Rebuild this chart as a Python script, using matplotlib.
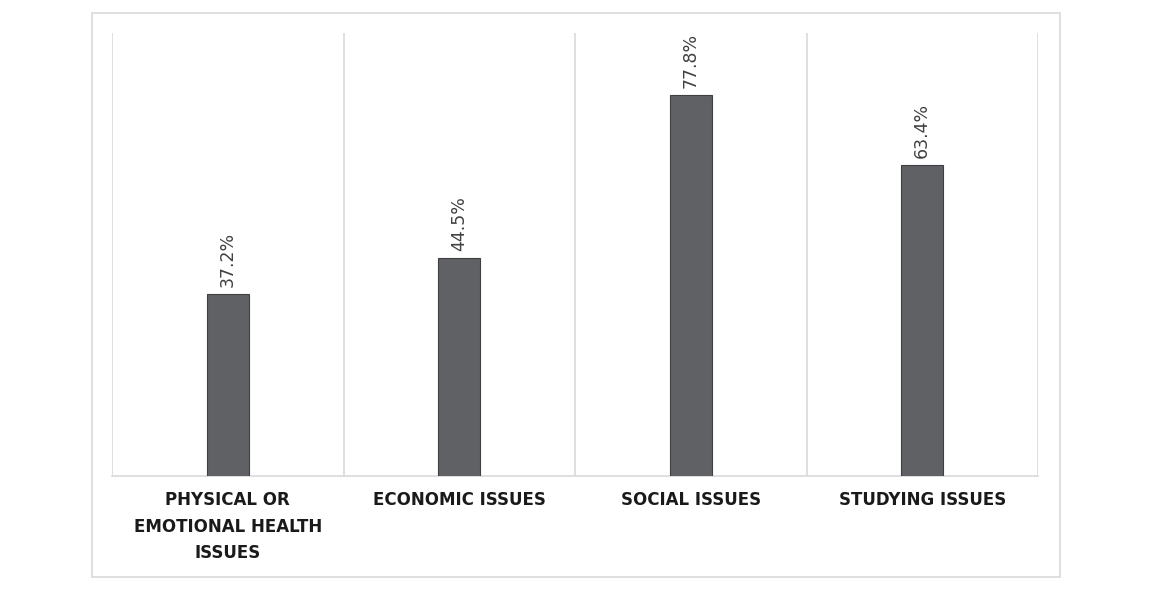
import matplotlib.pyplot as plt
from matplotlib.patches import Rectangle

categories = ["PHYSICAL OR\nEMOTIONAL HEALTH\nISSUES", "ECONOMIC ISSUES",
              "SOCIAL ISSUES", "STUDYING ISSUES"]
values = [37.2, 44.5, 77.8, 63.4]

fig = plt.figure(figsize=(11.52, 5.91), dpi=100)
ax = fig.add_axes([112 / 1152, 1 - 476 / 591, (1038 - 112) / 1152, (476 - 33) / 591])

# outer chart frame
fig.patches.append(Rectangle((92 / 1152, 1 - 577 / 591), (1060 - 92) / 1152, (577 - 13) / 591,
                             transform=fig.transFigure, fill=False, edgecolor="#d9d9d9", lw=1.2))

x = range(len(values))
ax.bar(x, values, width=0.18, color="#606165", edgecolor="#3f3f3f", linewidth=0.8, zorder=3)

for xi, v in zip(x, values):
    ax.annotate(f"{v}%", (xi, v), xytext=(0, 5), textcoords="offset points",
                rotation=90, ha="center", va="bottom", fontsize=12.5, color="#404040")

# category separators
for b in [-0.5, 0.5, 1.5, 2.5, 3.5]:
    ax.axvline(b, color="#d9d9d9", lw=1.2, zorder=1)

ax.set_xlim(-0.5, 3.5)
ax.set_ylim(0, 90.4)
ax.set_xticks(list(x))
ax.set_xticklabels(categories, fontsize=12, fontweight="bold", color="#1a1a1a", linespacing=1.6)
ax.tick_params(axis="x", length=0, pad=11)
ax.set_yticks([])
for s in ["top", "left", "right"]:
    ax.spines[s].set_visible(False)
ax.spines["bottom"].set_color("#d9d9d9")
ax.spines["bottom"].set_linewidth(1.2)

fig.savefig("out.png", dpi=100)
